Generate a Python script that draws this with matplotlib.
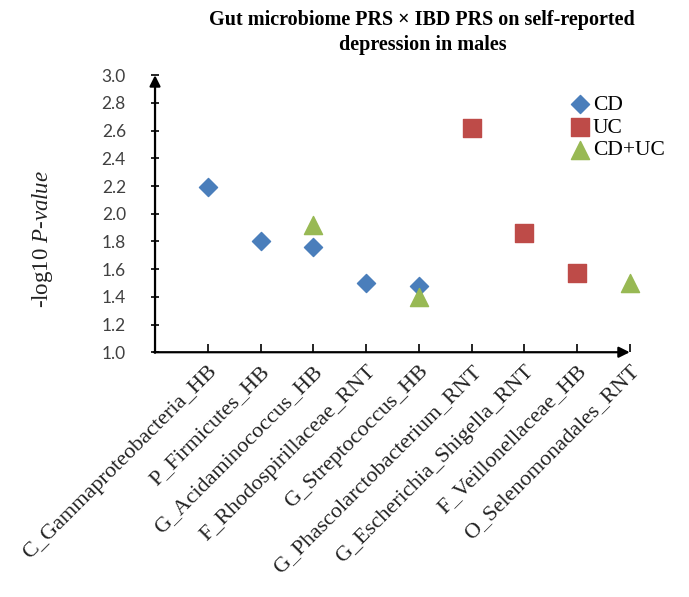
import numpy as np
import matplotlib
matplotlib.use("Agg")
import matplotlib.pyplot as plt

taxa = ["C_Gammaproteobacteria_HB", "P_Firmicutes_HB", "G_Acidaminococcus_HB",
        "F_Rhodospirillaceae_RNT", "G_Streptococcus_HB", "G_Phascolarctobacterium_RNT",
        "G_Escherichia_Shigella_RNT", "F_Veillonellaceae_HB", "O_Selenomonadales_RNT"]

cd_pos = [1, 2, 3, 4, 5]
cd_val = [2.19, 1.80, 1.76, 1.50, 1.48]
uc_pos = [6, 7, 8]
uc_val = [2.62, 1.86, 1.57]
both_pos = [3, 5, 9]
both_val = [1.92, 1.40, 1.50]

serif = "Liberation Serif"
plt.rcParams["mathtext.fontset"] = "custom"
plt.rcParams["mathtext.it"] = "Liberation Serif:italic"
plt.rcParams["mathtext.rm"] = "Liberation Serif"

fig = plt.figure(figsize=(6.89, 5.97), dpi=100)
ax = fig.add_axes([0.225, 0.41, 0.689, 0.464])

ax.scatter(cd_pos, cd_val, marker="D", s=85, color="#4a7ebb", label="CD", zorder=3,
           clip_on=False)
ax.scatter(uc_pos, uc_val, marker="s", s=160, color="#be4b48", label="UC", zorder=3,
           clip_on=False)
ax.scatter(both_pos, both_val, marker="^", s=170, color="#98b954", label="CD+UC", zorder=3,
           clip_on=False)

ax.set_xlim(0, 9)
ax.set_ylim(1.0, 3.0)
ticks = np.arange(1.0, 3.01, 0.2)
ax.set_yticks(ticks)
ax.set_yticklabels([f"{v:.1f}" for v in ticks], fontsize=12.5, family="Lato", color="#404040")
ax.set_xticks(range(1, 10))
ax.set_xticklabels(taxa, rotation=45, ha="right", rotation_mode="anchor",
                   fontsize=16, family=serif, color="#222222")
ax.tick_params(axis="y", direction="inout", length=6, width=1.2, pad=18)
ax.tick_params(axis="x", direction="in", length=6, width=1.2, pad=7)

for s in ["top", "right", "left", "bottom"]:
    ax.spines[s].set_visible(False)
# axes with arrow heads
ax.annotate("", xy=(0, 1.0), xytext=(0, -0.002), xycoords="axes fraction",
            arrowprops=dict(arrowstyle="-|>", color="black", lw=1.6, mutation_scale=16,
                            shrinkA=0, shrinkB=0))
ax.annotate("", xy=(1.0, 0), xytext=(-0.002, 0), xycoords="axes fraction",
            arrowprops=dict(arrowstyle="-|>", color="black", lw=1.6, mutation_scale=16,
                            shrinkA=0, shrinkB=0))

fig.text(0.062, 0.60, "-log10 $\\mathit{P}$-$\\mathit{value}$", rotation=90,
         ha="center", va="center", fontsize=16.5, family=serif, color="#222222")

fig.suptitle("Gut microbiome PRS × IBD PRS on self-reported\ndepression in males",
             x=0.613, y=0.983, fontsize=14.5, fontweight="bold", family=serif,
             linespacing=1.3)

leg = ax.legend(loc="upper left", bbox_to_anchor=(0.85, 0.96), frameon=False,
                prop={"family": serif, "size": 15.5}, handletextpad=0.0,
                labelspacing=0.12, borderaxespad=0, handlelength=1.2)

fig.savefig("out.png", dpi=100)
